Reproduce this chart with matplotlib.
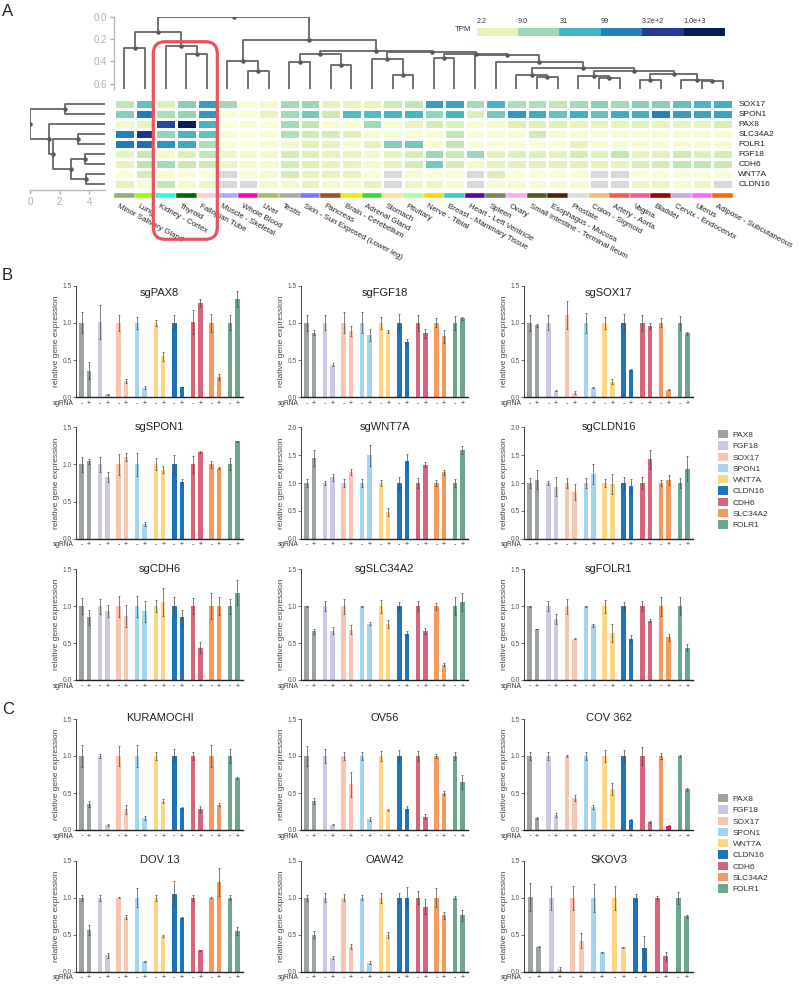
import numpy as np
import matplotlib
matplotlib.use("Agg")
import matplotlib.pyplot as plt
from matplotlib import transforms
from matplotlib.colors import LinearSegmentedColormap, LogNorm
from matplotlib.patches import FancyBboxPatch, Patch

plt.rcParams["font.family"] = ["Liberation Sans", "DejaVu Sans"]

W, H = 799, 984
nan = np.nan

# ---------------- panel A data ----------------
tissues = ["Minor Salivary Gland", "Lung", "Kidney - Cortex", "Thyroid", "Fallopian Tube",
           "Muscle - Skeletal", "Whole Blood", "Liver", "Testis", "Skin - Sun Exposed (Lower leg)",
           "Pancreas", "Brain - Cerebellum", "Adrenal Gland", "Stomach", "Pituitary",
           "Nerve - Tibial", "Breast - Mammary Tissue", "Heart - Left Ventricle", "Spleen", "Ovary",
           "Small Intestine - Terminal Ileum", "Esophagus - Mucosa", "Prostate", "Colon - Sigmoid",
           "Artery - Aorta", "Vagina", "Bladder", "Cervix - Endocervix", "Uterus",
           "Adipose - Subcutaneous"]
tissue_colors = ["#95ad76", "#99ff00", "#22ffdd", "#006600", "#ffcccc", "#aaaaff", "#ff00bb",
                 "#aabb66", "#aaaaaa", "#7777ff", "#995522", "#eeee00", "#33dd33", "#ffdd99",
                 "#aaff99", "#ffd700", "#33cccc", "#660099", "#778855", "#ffaaff", "#555522",
                 "#552200", "#dddddd", "#eebb77", "#ff5555", "#ff5599", "#aa0000", "#ccaadd",
                 "#ff66ff", "#ff6600"]
heat_genes = ["SOX17", "SPON1", "PAX8", "SLC34A2", "FOLR1", "FGF18", "CDH6", "WNT7A", "CLDN16"]

tpm_SOX17 = [5, 20, 2.5, 12, 50, 8, 1.0, 1.5, 8, 9, 2.0, 2.0, 2.0, 4, 5,
             50, 45, 8, 30, 7, 7, 5, 8, 12, 8, 12, 12, 20, 30, 35]
tpm_SPON1 = [12, 110, 7, 10, 60, 1.0, 1.0, 2.0, 8, 15, 4.5, 25, 25, 28, 30,
             10, 30, 3, 15, 60, 38, 20, 35, 20, 38, 35, 99, 50, 45, 45]
tpm_PAX8 = [1.5, 2.0, 250, 1000, 32, 0.8, 1.3, 1.0, 8, 5, 1.2, 1.0, 8, 1.2, 2.0,
            3.5, 2.5, 1.2, 1.5, 2.5, 2.5, 2.5, 2.0, 2.0, 2.0, 2.2, 2.0, 2.0, 2.0, 3.0]
tpm_SLC34A2 = [99, 400, 10, 30, 20, 1.0, 0.8, 1.0, 7, 4, 3.5, 2.2, 1.2, 1.2, 1.2,
               1.2, 5, 1.0, 1.0, 1.2, 4, 1.3, 1.2, 1.2, 1.2, 1.2, 1.2, 1.2, 1.2, 1.2]
tpm_FOLR1 = [110, 130, 65, 40, 7, 1.0, 0.8, 1.2, 1.6, 2.2, 2.0, 1.2, 2.0, 12, 15,
             1.2, 5, 1.0, 1.0, 1.0, 1.0, 1.0, 2.0, 1.2, 1.2, 1.2, 1.2, 1.2, 1.2, 1.2]
tpm_FGF18 = [2.0, 4.5, 1.5, 2.8, 5, 1.8, 1.5, 1.5, 3.5, 2.5, 2.0, 2.0, 1.5, 2.0, 3,
             9, 4.5, 9, 2.2, 2.5, 2.5, 2.2, 3.5, 2.3, 5, 2.0, 2.2, 4, 2.5, 3.5]
tpm_CDH6 = [2.0, 5.5, 8, 4.5, 4, 1.8, 1.5, 1.5, 3.5, 2.5, 2.0, 2.0, 1.5, 2.0, 3.5,
            15, 3.5, 1.5, 2.0, 2.3, 2.3, 2.3, 2.3, 2.0, 2.0, 3, 3.5, 5, 5, 4.5]
tpm_WNT7A = [1.0, 3.5, 1.3, 1.0, 1.0, nan, 1.2, 1.3, 3.5, 2.0, 2.0, 2.0, 1.0, nan, 1.3,
             1.0, 1.0, nan, 3, 1.0, 1.0, 1.0, 1.0, nan, nan, 1.0, 1.0, 1.0, 1.0, 1.0]
tpm_CLDN16 = [2.0, 1.2, 5, 1.5, 1.8, nan, nan, 1.5, 1.5, 2.0, 1.5, 1.5, 2.0, nan, 1.8,
              1.8, 1.3, nan, 1.3, 1.3, 1.3, 1.2, 1.2, nan, nan, 1.8, 1.8, 1.3, 1.8, nan]

cbar_values = [2.2, 9.0, 31, 99, 320, 1000]
cbar_labels = ["2.2", "9.0", "31", "99", "3.2e+2", "1.0e+3"]

# dendrograms: (depth, left, right); leaves are column / row indices
tree_x = (0.51, (0.57, 25, 26), (0.57, 27, (0.58, 28, 29)))
tree_v = (0.49, (0.53, 22, (0.55, 23, 24)), tree_x)
tree_t = (0.457, (0.52, 19, (0.54, 20, 21)), tree_v)
tree_s = (0.41, 18, tree_t)
tree_h = (0.343, 17, tree_s)
tree_q = (0.33, (0.373, 15, 16), tree_h)
tree_p = (0.32, (0.38, 12, (0.52, 13, 14)), tree_q)
tree_r = (0.31, (0.33, (0.41, 8, 9), (0.43, 10, 11)), tree_p)
tree_right = (0.21, (0.40, 5, (0.49, 6, 7)), tree_r)
tree_left = (0.135, (0.28, 0, 1), (0.265, 2, (0.33, 3, 4)))
col_tree = (0.0, tree_left, tree_right)
row_tree = (0.0, (2.36, 0, 1),
            (1.30, 2, (1.53, (3.26, 3, 4), (2.76, (3.67, 5, 6), (3.78, 7, 8)))))

# ---------------- panels B / C data ----------------
genes = ["PAX8", "FGF18", "SOX17", "SPON1", "WNT7A", "CLDN16", "CDH6", "SLC34A2", "FOLR1"]
gene_colors = ["#9ca2a0", "#cdc6e5", "#f8c6b0", "#a2d5f1", "#fdd684", "#1c74bc",
               "#d9637b", "#f49a5c", "#6ea68d"]

sgPAX8_ctrl = [1.00, 1.01, 1.00, 1.00, 1.00, 1.00, 1.01, 1.00, 1.00]
sgPAX8_ko = [0.36, 0.04, 0.22, 0.13, 0.55, 0.14, 1.27, 0.27, 1.32]
sgPAX8_ctrl_sd = [0.14, 0.23, 0.11, 0.08, 0.04, 0.10, 0.16, 0.12, 0.10]
sgPAX8_ko_sd = [0.12, 0.005, 0.03, 0.02, 0.06, 0.005, 0.05, 0.04, 0.11]

sgFGF18_ctrl = [1.00, 1.00, 1.00, 1.00, 1.00, 1.00, 1.00, 1.00, 1.00]
sgFGF18_ko = [0.87, 0.44, 0.89, 0.84, 0.89, 0.74, 0.86, 0.82, 1.06]
sgFGF18_ctrl_sd = [0.11, 0.10, 0.14, 0.14, 0.08, 0.12, 0.11, 0.06, 0.09]
sgFGF18_ko_sd = [0.03, 0.02, 0.07, 0.08, 0.02, 0.05, 0.06, 0.09, 0.02]

sgSOX17_ctrl = [1.00, 1.00, 1.11, 1.00, 1.00, 1.00, 1.00, 1.00, 1.00]
sgSOX17_ko = [0.97, 0.09, 0.06, 0.13, 0.21, 0.37, 0.96, 0.10, 0.86]
sgSOX17_ctrl_sd = [0.11, 0.10, 0.19, 0.13, 0.08, 0.12, 0.11, 0.06, 0.09]
sgSOX17_ko_sd = [0.02, 0.01, 0.02, 0.01, 0.03, 0.01, 0.04, 0.005, 0.02]

sgSPON1_ctrl = [1.00, 1.00, 1.00, 1.00, 1.00, 1.00, 1.00, 1.00, 1.00]
sgSPON1_ko = [1.04, 0.83, 1.10, 0.20, 0.93, 0.77, 1.17, 0.95, 1.31]
sgSPON1_ctrl_sd = [0.10, 0.10, 0.14, 0.15, 0.08, 0.13, 0.12, 0.05, 0.08]
sgSPON1_ko_sd = [0.03, 0.07, 0.06, 0.03, 0.05, 0.03, 0.01, 0.01, 0.01]

sgWNT7A_ctrl = [1.00, 1.00, 1.00, 1.00, 1.00, 1.00, 1.00, 1.00, 1.00]
sgWNT7A_ko = [1.45, 1.10, 1.20, 1.50, 0.48, 1.39, 1.33, 1.19, 1.59]
sgWNT7A_ctrl_sd = [0.08, 0.03, 0.08, 0.08, 0.05, 0.10, 0.09, 0.05, 0.08]
sgWNT7A_ko_sd = [0.14, 0.06, 0.06, 0.19, 0.08, 0.13, 0.04, 0.04, 0.07]

sgCLDN16_ctrl = [1.00, 1.00, 1.00, 1.00, 1.00, 1.00, 1.00, 1.00, 1.00]
sgCLDN16_ko = [1.06, 0.93, 0.84, 1.16, 0.98, 0.94, 1.43, 1.05, 1.26]
sgCLDN16_ctrl_sd = [0.09, 0.03, 0.09, 0.09, 0.07, 0.10, 0.10, 0.06, 0.09]
sgCLDN16_ko_sd = [0.17, 0.17, 0.14, 0.18, 0.18, 0.13, 0.17, 0.09, 0.23]

sgCDH6_ctrl = [1.00, 1.00, 1.00, 1.00, 1.00, 1.00, 1.00, 1.00, 1.00]
sgCDH6_ko = [0.85, 0.94, 0.87, 0.93, 1.06, 0.85, 0.44, 1.00, 1.18]
sgCDH6_ctrl_sd = [0.11, 0.10, 0.14, 0.14, 0.08, 0.13, 0.11, 0.18, 0.10]
sgCDH6_ko_sd = [0.10, 0.08, 0.15, 0.14, 0.19, 0.10, 0.08, 0.12, 0.17]

sgSLC34A2_ctrl = [1.00, 1.00, 1.00, 1.00, 1.00, 1.00, 1.00, 1.00, 1.00]
sgSLC34A2_ko = [0.66, 0.67, 0.68, 0.76, 0.76, 0.63, 0.66, 0.21, 1.06]
sgSLC34A2_ctrl_sd = [0.005, 0.07, 0.10, 0.005, 0.09, 0.06, 0.07, 0.05, 0.12]
sgSLC34A2_ko_sd = [0.03, 0.05, 0.06, 0.02, 0.05, 0.03, 0.04, 0.02, 0.12]

sgFOLR1_ctrl = [1.00, 1.00, 1.00, 1.00, 1.00, 1.00, 1.00, 1.00, 1.00]
sgFOLR1_ko = [0.69, 0.83, 0.56, 0.74, 0.64, 0.56, 0.80, 0.58, 0.44]
sgFOLR1_ctrl_sd = [0.005, 0.07, 0.10, 0.005, 0.09, 0.06, 0.07, 0.13, 0.12]
sgFOLR1_ko_sd = [0.005, 0.07, 0.01, 0.02, 0.12, 0.05, 0.02, 0.05, 0.05]

KURAMOCHI_ctrl = [1.00, 1.00, 1.00, 1.00, 1.00, 1.00, 1.00, 1.00, 1.00]
KURAMOCHI_ko = [0.35, 0.07, 0.28, 0.16, 0.39, 0.30, 0.29, 0.34, 0.70]
KURAMOCHI_ctrl_sd = [0.15, 0.03, 0.13, 0.15, 0.05, 0.09, 0.06, 0.15, 0.10]
KURAMOCHI_ko_sd = [0.04, 0.01, 0.06, 0.03, 0.03, 0.01, 0.04, 0.02, 0.01]

OV56_ctrl = [1.00, 1.00, 1.00, 1.00, 1.00, 1.00, 1.00, 1.00, 1.00]
OV56_ko = [0.39, 0.07, 0.62, 0.15, 0.27, 0.29, 0.18, 0.50, 0.65]
OV56_ctrl_sd = [0.14, 0.09, 0.05, 0.06, 0.07, 0.08, 0.07, 0.03, 0.05]
OV56_ko_sd = [0.04, 0.005, 0.17, 0.03, 0.01, 0.04, 0.03, 0.03, 0.10]

COV362_ctrl = [1.00, 1.00, 1.00, 1.00, 1.00, 1.00, 1.00, 1.00, 1.00]
COV362_ko = [0.16, 0.20, 0.43, 0.31, 0.55, 0.14, 0.11, 0.06, 0.55]
COV362_ctrl_sd = [0.05, 0.06, 0.02, 0.06, 0.08, 0.08, 0.12, 0.04, 0.02]
COV362_ko_sd = [0.01, 0.03, 0.04, 0.03, 0.08, 0.005, 0.01, 0.005, 0.02]

DOV13_ctrl = [1.00, 1.00, 1.00, 1.00, 1.00, 1.05, 1.00, 1.00, 1.00]
DOV13_ko = [0.56, 0.22, 0.74, 0.14, 0.48, 0.73, 0.29, 1.21, 0.55]
DOV13_ctrl_sd = [0.04, 0.04, 0.01, 0.13, 0.04, 0.17, 0.04, 0.01, 0.03]
DOV13_ko_sd = [0.07, 0.03, 0.03, 0.01, 0.01, 0.01, 0.01, 0.19, 0.05]

OAW42_ctrl = [1.00, 1.00, 1.00, 1.00, 1.00, 1.00, 1.00, 1.00, 1.00]
OAW42_ko = [0.50, 0.19, 0.34, 0.12, 0.49, 1.00, 0.88, 0.76, 0.76]
OAW42_ctrl_sd = [0.04, 0.06, 0.05, 0.03, 0.07, 0.07, 0.09, 0.13, 0.02]
OAW42_ko_sd = [0.05, 0.02, 0.03, 0.02, 0.04, 0.14, 0.10, 0.05, 0.08]

# SKOV3 has no SLC34A2 group
SKOV3_ctrl = [1.01, 1.00, 1.00, 1.00, 1.00, 1.00, 1.00, nan, 1.00]
SKOV3_ko = [0.34, 0.04, 0.42, 0.26, 0.33, 0.32, 0.21, nan, 0.75]
SKOV3_ctrl_sd = [0.19, 0.16, 0.16, 0.19, 0.16, 0.05, 0.02, nan, 0.08]
SKOV3_ko_sd = [0.01, 0.03, 0.10, 0.01, 0.01, 0.16, 0.06, nan, 0.02]


def px_rect(x0, y0, x1, y1):
    return [x0 / W, 1 - y1 / H, (x1 - x0) / W, (y1 - y0) / H]


def draw_tree(ax, node, leaf_depth, vertical=True):
    if isinstance(node, int):
        return node + 0.5, leaf_depth
    h, a, b = node
    pa, da = draw_tree(ax, a, leaf_depth, vertical)
    pb, db = draw_tree(ax, b, leaf_depth, vertical)
    pos = [pa, pa, pb, pb]
    dep = [da, h, h, db]
    mid = (pa + pb) / 2
    if vertical:
        ax.plot(pos, dep, color="#666666", lw=1.3, solid_capstyle="butt")
        ax.plot([mid], [h], "o", color="#555555", ms=2.2)
    else:
        ax.plot(dep, pos, color="#666666", lw=1.3, solid_capstyle="butt")
        ax.plot([h], [mid], "o", color="#555555", ms=2.2)
    return mid, h


def bar_panel(ax, title, ctrl, ko, ctrl_sd, ko_sd, ymax, title_y=1.0, ko_override=None):
    idx = [i for i in range(len(genes)) if not np.isnan(ctrl[i])]
    n = len(idx)
    pos = np.arange(n)
    cols = [gene_colors[i] for i in idx]
    ko_cols = list(cols)
    if ko_override:
        for gi, c in ko_override.items():
            ko_cols[idx.index(gi)] = c
    ekw = dict(ecolor="#4a4a4a", elinewidth=0.5, capsize=1.0, capthick=0.5)
    ax.bar(pos, [ctrl[i] for i in idx], 0.24, color=cols,
           yerr=[ctrl_sd[i] for i in idx], error_kw=ekw)
    ax.bar(pos + 0.4, [ko[i] for i in idx], 0.24, color=ko_cols,
           yerr=[ko_sd[i] for i in idx], error_kw=ekw)
    ax.set_xlim(-0.3, n - 0.3)
    ax.set_ylim(0, ymax)
    ticks = np.arange(0, ymax + 0.01, 0.5)
    ax.set_yticks(ticks)
    ax.set_yticklabels([f"{t:.1f}" for t in ticks])
    ax.set_xticks([])
    ax.tick_params(axis="y", labelsize=4.8, length=2, width=0.6, colors="#555555", pad=1)
    for s in ("top", "right"):
        ax.spines[s].set_visible(False)
    ax.spines["left"].set_color("#444444")
    ax.spines["left"].set_linewidth(0.7)
    ax.spines["bottom"].set_color("#222222")
    ax.spines["bottom"].set_linewidth(1.0)
    ax.set_ylabel("relative gene expression", fontsize=6, color="#444444", labelpad=2)
    ax.text(0.5, title_y, title, transform=ax.transAxes, ha="center", va="center",
            fontsize=8, color="#222222")
    tr = transforms.blended_transform_factory(ax.transData, ax.transAxes)
    for p in pos:
        ax.text(p, -0.055, "-", transform=tr, ha="center", va="center", fontsize=5, color="#333333")
        ax.text(p + 0.4, -0.055, "+", transform=tr, ha="center", va="center", fontsize=5,
                color="#333333")
    ax.text(-0.012, -0.055, "sgRNA", transform=ax.transAxes, ha="right", va="center",
            fontsize=4.8, color="#333333")


fig = plt.figure(figsize=(W / 100, H / 100), dpi=100)

# ---------------- panel A ----------------
anchor_vals = [0.8, 1.5, 2.2, 4.5, 9, 31, 99, 320, 1000]
anchor_cols = ["#fcfed8", "#f3fac8", "#e2f3b8", "#c8e9b4", "#9bd7b9", "#45b5c4",
               "#2181b9", "#25399b", "#081d58"]
lo, hi = np.log10(anchor_vals[0]), np.log10(anchor_vals[-1])
cmap = LinearSegmentedColormap.from_list(
    "tpm", [((np.log10(v) - lo) / (hi - lo), c) for v, c in zip(anchor_vals, anchor_cols)])
cmap.set_bad("#d9d9d9")
norm = LogNorm(anchor_vals[0], anchor_vals[-1])

heat = np.array([tpm_SOX17, tpm_SPON1, tpm_PAX8, tpm_SLC34A2, tpm_FOLR1,
                 tpm_FGF18, tpm_CDH6, tpm_WNT7A, tpm_CLDN16], dtype=float)
ax_h = fig.add_axes(px_rect(114, 99.3, 733, 189.3))
ax_h.pcolormesh(np.arange(31), np.arange(10), np.ma.masked_invalid(heat), cmap=cmap,
                norm=norm, edgecolors="white", linewidth=1.0)
ax_h.set_xlim(0, 30)
ax_h.set_ylim(9, 0)
ax_h.axis("off")
for r, g in enumerate(heat_genes):
    ax_h.text(30.25, r + 0.5, g, ha="left", va="center", fontsize=6, color="#222222")

ax_s = fig.add_axes(px_rect(114, 193, 733, 198.5))
ax_s.bar(np.arange(30) + 0.5, np.ones(30), 1.0, color=tissue_colors, edgecolor="white",
         linewidth=0.3)
ax_s.set_xlim(0, 30)
ax_s.set_ylim(0, 1)
ax_s.axis("off")
trs = transforms.blended_transform_factory(ax_s.transData, ax_s.transAxes)
for i, t in enumerate(tissues):
    ax_s.text(i + 0.25, -0.8, t, transform=trs, rotation=-28, rotation_mode="anchor",
              ha="left", va="top", fontsize=5.7, color="#222222")

ax_td = fig.add_axes(px_rect(114, 16.7, 733, 89.3))
draw_tree(ax_td, col_tree, 0.651, vertical=True)
ax_td.set_xlim(0, 30)
ax_td.set_ylim(0.651, 0.0)
ax_td.set_yticks([0.0, 0.2, 0.4, 0.6])
ax_td.set_yticklabels(["0.0", "0.2", "0.4", "0.6"])
ax_td.set_xticks([])
ax_td.tick_params(axis="y", labelsize=7, colors="#b0b0b0", length=3, width=1.0, pad=2)
for s in ("top", "right", "bottom"):
    ax_td.spines[s].set_visible(False)
ax_td.spines["left"].set_color("#b8b8b8")
ax_td.spines["left"].set_linewidth(1.0)
ax_td.patch.set_alpha(0)

ax_ld = fig.add_axes(px_rect(30, 99.3, 105, 190))
draw_tree(ax_ld, row_tree, 5.05, vertical=False)
ax_ld.set_xlim(0, 5.05)
ax_ld.set_ylim(9.07, 0)
ax_ld.set_xticks([0, 2, 4])
ax_ld.set_xticklabels(["0", "2", "4"])
ax_ld.set_yticks([])
ax_ld.tick_params(axis="x", labelsize=7, colors="#b0b0b0", length=3, width=1.0, pad=2)
for s in ("top", "right", "left"):
    ax_ld.spines[s].set_visible(False)
ax_ld.spines["bottom"].set_color("#b8b8b8")
ax_ld.spines["bottom"].set_linewidth(1.0)
ax_ld.patch.set_alpha(0)

ax_cb = fig.add_axes(px_rect(476.7, 27.7, 725, 36))
ax_cb.pcolormesh(np.arange(7), [0, 1], np.array([cbar_values]), cmap=cmap, norm=norm)
ax_cb.set_xlim(0, 6)
ax_cb.set_ylim(0, 1)
ax_cb.axis("off")
for i, lab in enumerate(cbar_labels):
    ax_cb.text(i, 1.35, lab, ha="left", va="bottom", fontsize=5.2, color="#333333")
ax_cb.text(-0.12, 0.75, "TPM", ha="right", va="center", fontsize=5.7, color="#333333")

# ---------------- panel B ----------------
col_x = [(76, 243), (301, 468), (524, 693)]
rowsB = [(285.7, 397.3), (427.3, 538.7), (569.3, 680.0)]
panelsB = [
    ("sgPAX8", sgPAX8_ctrl, sgPAX8_ko, sgPAX8_ctrl_sd, sgPAX8_ko_sd, 1.5),
    ("sgFGF18", sgFGF18_ctrl, sgFGF18_ko, sgFGF18_ctrl_sd, sgFGF18_ko_sd, 1.5),
    ("sgSOX17", sgSOX17_ctrl, sgSOX17_ko, sgSOX17_ctrl_sd, sgSOX17_ko_sd, 1.5),
    ("sgSPON1", sgSPON1_ctrl, sgSPON1_ko, sgSPON1_ctrl_sd, sgSPON1_ko_sd, 1.5),
    ("sgWNT7A", sgWNT7A_ctrl, sgWNT7A_ko, sgWNT7A_ctrl_sd, sgWNT7A_ko_sd, 2.0),
    ("sgCLDN16", sgCLDN16_ctrl, sgCLDN16_ko, sgCLDN16_ctrl_sd, sgCLDN16_ko_sd, 2.0),
    ("sgCDH6", sgCDH6_ctrl, sgCDH6_ko, sgCDH6_ctrl_sd, sgCDH6_ko_sd, 1.5),
    ("sgSLC34A2", sgSLC34A2_ctrl, sgSLC34A2_ko, sgSLC34A2_ctrl_sd, sgSLC34A2_ko_sd, 1.5),
    ("sgFOLR1", sgFOLR1_ctrl, sgFOLR1_ko, sgFOLR1_ctrl_sd, sgFOLR1_ko_sd, 1.5),
]
for k, (title, c, ko, csd, ksd, ymax) in enumerate(panelsB):
    r, cc = divmod(k, 3)
    ax = fig.add_axes(px_rect(col_x[cc][0], rowsB[r][0], col_x[cc][1], rowsB[r][1]))
    bar_panel(ax, title, c, ko, csd, ksd, ymax, title_y=0.935 if r == 0 else 1.0)

# ---------------- panel C ----------------
rowsC = [(719.0, 830.0), (860.7, 971.7)]
panelsC = [
    ("KURAMOCHI", KURAMOCHI_ctrl, KURAMOCHI_ko, KURAMOCHI_ctrl_sd, KURAMOCHI_ko_sd, None),
    ("OV56", OV56_ctrl, OV56_ko, OV56_ctrl_sd, OV56_ko_sd, None),
    ("COV 362", COV362_ctrl, COV362_ko, COV362_ctrl_sd, COV362_ko_sd, {7: "#e3197a"}),
    ("DOV 13", DOV13_ctrl, DOV13_ko, DOV13_ctrl_sd, DOV13_ko_sd, None),
    ("OAW42", OAW42_ctrl, OAW42_ko, OAW42_ctrl_sd, OAW42_ko_sd, None),
    ("SKOV3", SKOV3_ctrl, SKOV3_ko, SKOV3_ctrl_sd, SKOV3_ko_sd, None),
]
for k, (title, c, ko, csd, ksd, ov) in enumerate(panelsC):
    r, cc = divmod(k, 3)
    ax = fig.add_axes(px_rect(col_x[cc][0], rowsC[r][0], col_x[cc][1], rowsC[r][1]))
    bar_panel(ax, title, c, ko, csd, ksd, 1.5, title_y=1.01, ko_override=ov)

handles = [Patch(facecolor=col, edgecolor="none") for col in gene_colors]
for top in (430, 794):
    fig.legend(handles, genes, loc="upper left", bbox_to_anchor=(718 / W, 1 - top / H),
               frameon=False, fontsize=6, handlelength=1.15, handleheight=1.15,
               labelspacing=0.28, handletextpad=0.6, borderpad=0, borderaxespad=0,
               labelcolor="#333333")

# ---------------- overlay: panel letters and highlight box ----------------
ov = fig.add_axes([0, 0, 1, 1], zorder=10)
ov.set_xlim(0, W)
ov.set_ylim(H, 0)
ov.axis("off")
ov.patch.set_alpha(0)
ov.add_patch(FancyBboxPatch((153.3, 41.7), 64, 197.6,
                            boxstyle="round,pad=0,rounding_size=12",
                            facecolor="none", edgecolor="#e8535b", linewidth=2.3))
for letter, y in (("A", 12), ("B", 276), ("C", 709)):
    ov.text(2, y, letter, fontsize=12, ha="left", va="center", color="#222222")

fig.savefig("out.png", dpi=100)
